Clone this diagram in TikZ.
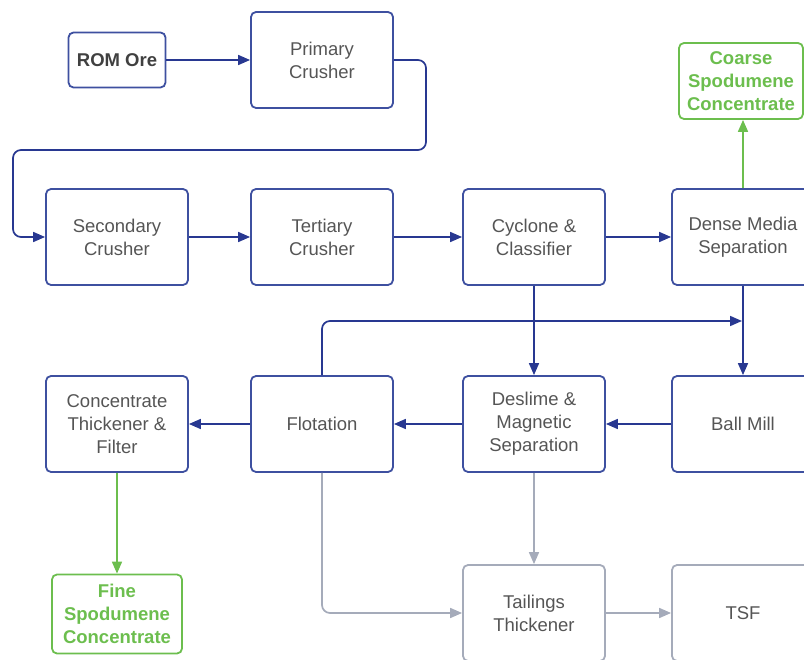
\documentclass[tikz,border=0pt]{standalone}
\usepackage{fontspec}
\setmainfont{Liberation Sans}
\usetikzlibrary{arrows.meta}
\definecolor{bblue}{RGB}{62,80,160}
\definecolor{ablue}{RGB}{40,56,145}
\definecolor{lgreen}{RGB}{108,190,78}
\definecolor{lgray}{RGB}{165,171,186}
\definecolor{tgray}{RGB}{85,85,85}
\begin{document}
\begin{tikzpicture}[x=1pt,y=-1pt,
  proc/.style={draw=bblue, line width=1.8pt, rounded corners=5pt,
    minimum width=142pt, minimum height=96pt, inner sep=0pt, align=center,
    text=tgray, font=\fontsize{18.5}{23}\selectfont},
  tail/.style={proc, draw=lgray},
  prod/.style={draw=lgreen, line width=1.8pt, rounded corners=5pt,
    inner sep=0pt, align=center, text=lgreen,
    font=\bfseries\fontsize{18.5}{23}\selectfont},
  aline/.style={draw=ablue, line width=1.7pt, -{Triangle[length=12pt,width=10pt]}},
  gline/.style={aline, draw=lgreen, -{Triangle[length=12pt,width=10pt,fill=lgreen]}},
  grline/.style={aline, draw=lgray, -{Triangle[length=12pt,width=10pt,fill=lgray]}}
]
\useasboundingbox (0,0) rectangle (804,660);
\clip (0,0) rectangle (804,660);

\node[proc, minimum width=97pt, minimum height=55pt, text=black!75,
  font=\bfseries\fontsize{18.5}{23}\selectfont] (rom) at (117,60) {ROM Ore};
\node[proc] (pri) at (322,60) {Primary\\Crusher};
\node[proc] (sec) at (117,237) {Secondary\\Crusher};
\node[proc] (ter) at (322,237) {Tertiary\\Crusher};
\node[proc] (cyc) at (534,237) {Cyclone \&\\Classifier};
\node[proc] (dms) at (743,237) {Dense Media\\Separation};
\node[prod, minimum width=124pt, minimum height=76pt] (coarse) at (741,81) {Coarse\\Spodumene\\Concentrate};
\node[proc] (con) at (117,424) {Concentrate\\Thickener \&\\Filter};
\node[proc] (flo) at (322,424) {Flotation};
\node[proc] (des) at (534,424) {Deslime \&\\Magnetic\\Separation};
\node[proc] (ball) at (743,424) {Ball Mill};
\node[prod, minimum width=130pt, minimum height=79pt] (fine) at (117,614) {Fine\\Spodumene\\Concentrate};
\node[tail] (tt) at (534,613) {Tailings\\Thickener};
\node[tail] (tsf) at (743,613) {TSF};

\coordinate (p1) at (426,60);
\coordinate (p2) at (426,150);
\coordinate (p3) at (13,150);
\coordinate (p4) at (13,237);
\coordinate (j) at (742,321);

\draw[aline] (rom) -- (pri);
\draw[aline, rounded corners=8pt] (pri.east) -- (p1) -- (p2) -- (p3) -- (p4) -- (sec.west);
\draw[aline] (sec) -- (ter);
\draw[aline] (ter) -- (cyc);
\draw[aline] (cyc) -- (dms);
\draw[gline] (dms.north) -- (dms.north |- coarse.south);
\draw[aline] (cyc) -- (des);
\draw[aline] (dms) -- (ball);
\draw[aline, rounded corners=8pt] (flo.north) |- (j);
\draw[aline] (ball) -- (des);
\draw[aline] (des) -- (flo);
\draw[aline] (flo) -- (con);
\draw[gline] (con) -- (fine);
\draw[grline] (des) -- (tt);
\draw[grline, rounded corners=8pt] (flo.south) |- (tt.west);
\draw[grline] (tt) -- (tsf);
\end{tikzpicture}
\end{document}
